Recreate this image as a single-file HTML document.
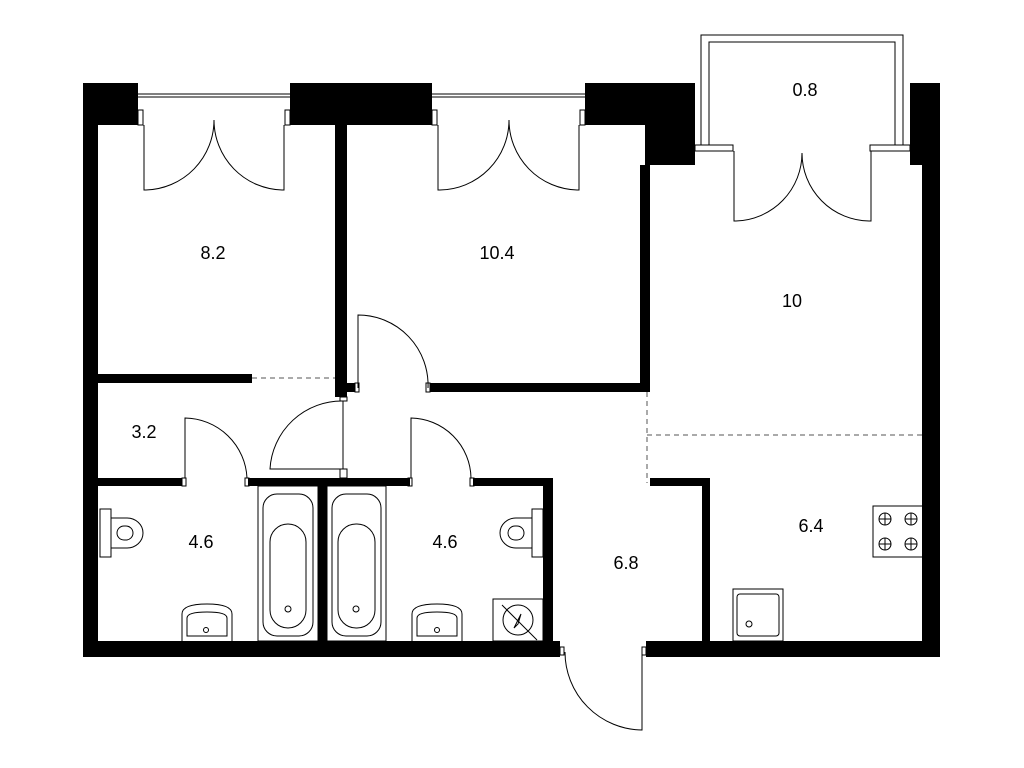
<!DOCTYPE html>
<html><head><meta charset="utf-8"><style>
html,body{margin:0;padding:0;background:#fff;}
svg{display:block;}
text{font-family:"Liberation Sans",sans-serif;font-size:18px;fill:#000;text-anchor:middle;}
</style></head><body>
<svg width="1024" height="768" viewBox="0 0 1024 768" xmlns="http://www.w3.org/2000/svg">
<g fill="#000">
<rect x="83" y="83" width="55" height="42"/>
<rect x="290" y="83" width="142" height="42"/>
<rect x="585" y="83" width="110" height="42"/>
<rect x="645" y="83" width="50" height="82"/>
<rect x="910" y="83" width="30" height="82"/>
<rect x="83" y="83" width="15" height="574"/>
<rect x="922" y="83" width="18" height="574"/>
<rect x="83" y="641" width="477" height="16"/>
<rect x="646" y="641" width="294" height="16"/>
<rect x="335" y="125" width="12" height="272"/>
<rect x="640" y="165" width="10" height="227"/>
<rect x="430" y="383" width="220" height="9"/>
<rect x="98" y="374" width="154" height="9"/>
<rect x="343" y="383" width="12" height="9"/>
<rect x="98" y="478" width="84" height="8"/>
<rect x="248" y="478" width="162" height="8"/>
<rect x="473" y="478" width="80" height="8"/>
<rect x="543" y="478" width="10" height="170"/>
<rect x="318" y="486" width="9" height="160"/>
<rect x="650" y="478" width="60" height="8"/>
<rect x="702" y="478" width="8" height="170"/>
</g>
<g fill="none" stroke="#000" stroke-width="1">
<line x1="138" y1="94" x2="290" y2="94"/><line x1="138" y1="97" x2="290" y2="97"/>
<line x1="432" y1="94" x2="585" y2="94"/><line x1="432" y1="97" x2="585" y2="97"/>
<rect x="138" y="110" width="5" height="15"/><rect x="285" y="110" width="5" height="15"/>
<rect x="432" y="110" width="5" height="15"/><rect x="580" y="110" width="5" height="15"/>
<path d="M144 125 V190 H146 A70 70 0 0 0 214 120"/>
<path d="M284 125 V190 H282 A70 70 0 0 1 214 120"/>
<path d="M438 125 V190 H440 A70 70 0 0 0 509 120"/>
<path d="M579 125 V190 H577 A70 70 0 0 1 509 120"/>
<path d="M701 145 V35 H903 V145"/>
<path d="M709 145 V42 H895 V145"/>
<rect x="695" y="145" width="38" height="6"/><rect x="870" y="145" width="40" height="6"/>
<path d="M734 151 V221 H736 A68 68 0 0 0 802 153"/>
<path d="M871 151 V221 H869 A68 68 0 0 1 802 153"/>
<path d="M358 388 V315 A70 70 0 0 1 428 388"/>
<rect x="355" y="383" width="4" height="9"/><rect x="426" y="383" width="4" height="9"/>
<path d="M343 401 V469 H270 A72 72 0 0 1 343 401"/>
<rect x="340" y="397" width="7" height="4"/><rect x="340" y="469" width="7" height="9"/>
<path d="M185 478 V418 A63 63 0 0 1 247 478"/>
<rect x="182" y="478" width="4" height="8"/><rect x="245" y="478" width="4" height="8"/>
<path d="M411 478 V418 A61 61 0 0 1 471 478"/>
<rect x="408" y="478" width="4" height="8"/><rect x="470" y="478" width="4" height="8"/>
<path d="M642 652 V730 A78 78 0 0 1 565 652"/>
<rect x="560" y="647" width="4" height="8"/><rect x="642" y="647" width="4" height="8"/>
<line x1="252" y1="378" x2="335" y2="378" stroke-dasharray="5,4" stroke="#555"/>
<line x1="647" y1="392" x2="647" y2="483" stroke-dasharray="5,4" stroke="#555"/>
<line x1="647" y1="435" x2="922" y2="435" stroke-dasharray="5,4" stroke="#555"/>
<rect x="258" y="486" width="60" height="155"/>
<rect x="263" y="494" width="50" height="142" rx="14"/>
<rect x="270" y="524" width="36" height="104" rx="18"/>
<circle cx="288" cy="609" r="3"/>
<rect x="327" y="486" width="59" height="155"/>
<rect x="332" y="494" width="49" height="142" rx="14"/>
<rect x="338" y="524" width="37" height="104" rx="18"/>
<circle cx="356" cy="609" r="3"/>
<rect x="100" y="509" width="11" height="48"/>
<path d="M111 518 H127 A16 15 0 0 1 127 548 H111"/>
<rect x="117" y="526" width="16" height="14" rx="7"/>
<rect x="532" y="509" width="11" height="48"/>
<path d="M532 518 H516 A16 15 0 0 0 516 548 H532"/>
<rect x="508" y="526" width="16" height="14" rx="7"/>
<path d="M182 641 V614 Q182 604 207 604 Q232 604 232 614 V641"/>
<path d="M187 636 V618 Q187 612 207 612 Q227 612 227 618 V636 Z"/>
<circle cx="206" cy="630" r="2.5"/>
<path d="M412 641 V614 Q412 604 437 604 Q462 604 462 614 V641"/>
<path d="M417 636 V618 Q417 612 437 612 Q457 612 457 618 V636 Z"/>
<circle cx="437" cy="630" r="2.5"/>
<rect x="493" y="599" width="50" height="42"/>
<circle cx="518" cy="620" r="15"/>
<line x1="502" y1="605" x2="537" y2="640"/>
<path d="M514 628 L521 614 L518 624 Z" />
<rect x="873" y="506" width="50" height="51"/>
<g>
<circle cx="885" cy="519" r="6"/><line x1="879" y1="519" x2="891" y2="519"/><line x1="885" y1="513" x2="885" y2="525"/>
<circle cx="911" cy="519" r="6"/><line x1="905" y1="519" x2="917" y2="519"/><line x1="911" y1="513" x2="911" y2="525"/>
<circle cx="885" cy="544" r="6"/><line x1="879" y1="544" x2="891" y2="544"/><line x1="885" y1="538" x2="885" y2="550"/>
<circle cx="911" cy="544" r="6"/><line x1="905" y1="544" x2="917" y2="544"/><line x1="911" y1="538" x2="911" y2="550"/>
</g>
<rect x="733" y="589" width="50" height="52"/>
<rect x="737" y="594" width="42" height="42" rx="3"/>
<circle cx="749" cy="624" r="3"/>
</g>
<text x="213" y="259">8.2</text>
<text x="497" y="259">10.4</text>
<text x="805" y="96">0.8</text>
<text x="792" y="307">10</text>
<text x="144" y="438">3.2</text>
<text x="201" y="548">4.6</text>
<text x="445" y="548">4.6</text>
<text x="626" y="569">6.8</text>
<text x="811" y="532">6.4</text>
</svg>
</body></html>
